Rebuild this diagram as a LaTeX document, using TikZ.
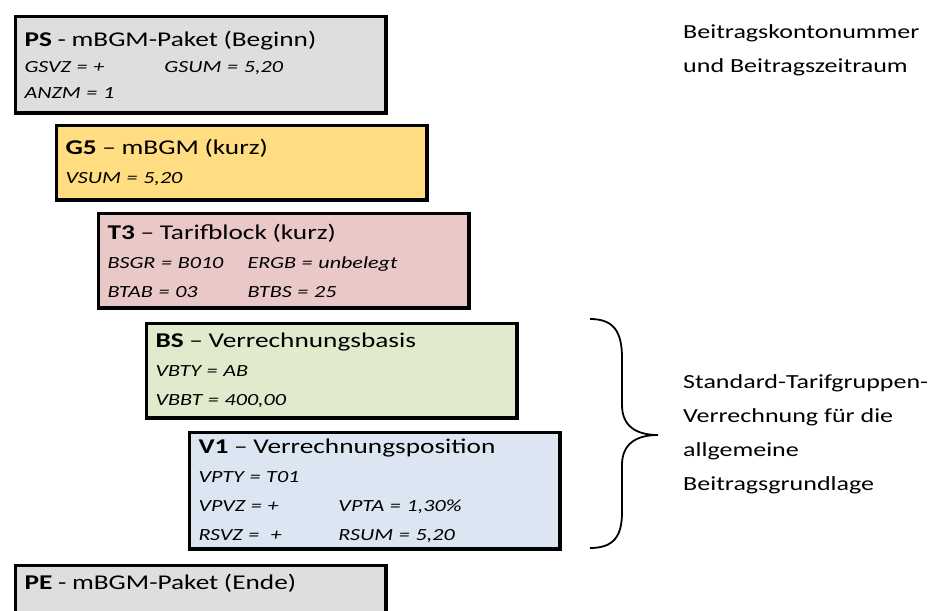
\documentclass[tikz,border=0pt]{standalone}
\usepackage{fontspec}
\setmainfont{Carlito}[FakeStretch=1.3]
\definecolor{pakgray}{RGB}{222,222,222}
\definecolor{mbgmyellow}{RGB}{255,221,128}
\definecolor{tarifpink}{RGB}{235,200,200}
\definecolor{basisgreen}{RGB}{224,234,205}
\definecolor{posblue}{RGB}{220,230,242}
\newcommand{\satzkopf}[2]{{\fontsize{21}{30}\selectfont\textbf{#1} #2}}
\newcommand{\feldpaar}[2]{\makebox[140pt][l]{\textit{#1}}\textit{#2}}
\tikzset{
  satz/.style={draw=black, line width=3.5pt, anchor=north west, align=left,
    inner xsep=9pt, inner ysep=4pt, minimum width=370.5pt, text width=352.5pt,
    font=\fontsize{17}{29}\selectfont},
  notiz/.style={anchor=base west, align=left, inner sep=0pt,
    font=\fontsize{20}{34}\selectfont}
}
\begin{document}
\begin{tikzpicture}[x=1pt,y=-1pt]
  \useasboundingbox (0,0) rectangle (939,610);
  \clip (0,0) rectangle (939,610);
  \node[satz, fill=pakgray, minimum height=96.5pt, font=\fontsize{17}{26}\selectfont] (ps) at (13.75,14.75)
    {\satzkopf{PS}{- mBGM-Paket (Beginn)}\\
     \feldpaar{GSVZ = +}{GSUM = 5,20}\\
     \textit{ANZM = 1}};
  \node[satz, fill=mbgmyellow, minimum height=74.5pt] (g5) at (54.75,123.75)
    {\satzkopf{G5}{– mBGM (kurz)}\\
     \textit{VSUM = 5,20}};
  \node[satz, fill=tarifpink, minimum height=94.5pt] (t3) at (96.75,211.75)
    {\satzkopf{T3}{– Tarifblock (kurz)}\\
     \feldpaar{BSGR = B010}{ERGB = unbelegt}\\
     \feldpaar{BTAB = 03}{BTBS = 25}};
  \node[satz, fill=basisgreen, minimum height=94.5pt] (bs) at (144.75,321.75)
    {\satzkopf{BS}{– Verrechnungsbasis}\\
     \textit{VBTY = AB}\\
     \textit{VBBT = 400,00}};
  \node[satz, fill=posblue, minimum height=116.5pt] (v1) at (187.75,430.75)
    {\satzkopf{V1}{– Verrechnungsposition}\\
     \textit{VPTY = T01}\\
     \feldpaar{VPVZ = +}{VPTA = 1,30\%}\\
     \feldpaar{RSVZ =\ \ +}{RSUM = 5,20}};
  \node[satz, fill=pakgray, inner ysep=9pt, text depth=60pt] (pe) at (13.75,563.75)
    {\satzkopf{PE}{- mBGM-Paket (Ende)}};

  \node[notiz] (konto) at (683,73)
    {Beitragskontonummer\\und Beitragszeitraum};
  \node[notiz] (verrechnung) at (683,490)
    {Standard-Tarifgruppen-\\Verrechnung für die\\allgemeine\\Beitragsgrundlage};

  \draw[line width=1.8pt]
    (590,319) .. controls (614,319) and (622,332) .. (622,358)
    -- (622,405) .. controls (622,426) and (636,435) .. (658,435)
    .. controls (636,435) and (622,444) .. (622,465)
    -- (622,512) .. controls (622,536) and (614,548) .. (590,548);
\end{tikzpicture}
\end{document}
